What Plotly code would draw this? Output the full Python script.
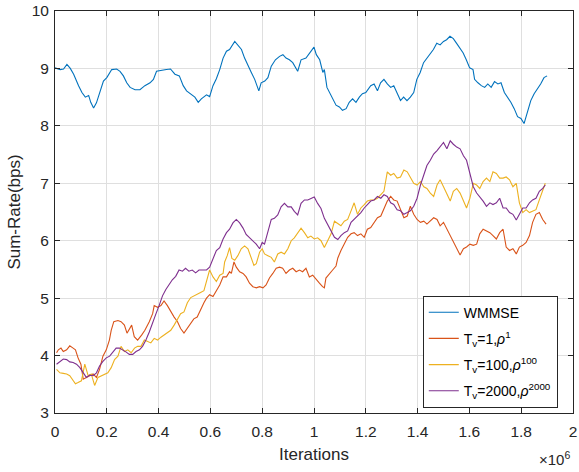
import plotly.graph_objects as go

# ---- data: iteration count in units of 1e6, sum-rate in bps ----
wmmse_x = [0, 0.02, 0.033, 0.046, 0.059, 0.072, 0.091, 0.104, 0.117, 0.13,
           0.138, 0.149, 0.16, 0.174, 0.187, 0.2, 0.219, 0.238, 0.251, 0.264,
           0.277, 0.29, 0.309, 0.328, 0.347, 0.367, 0.38, 0.392, 0.41, 0.43,
           0.446, 0.463, 0.48, 0.495, 0.508, 0.523, 0.54, 0.553, 0.565, 0.585,
           0.597, 0.61, 0.623, 0.636, 0.649, 0.662, 0.674, 0.694, 0.706, 0.72,
           0.732, 0.745, 0.758, 0.771, 0.787, 0.796, 0.81, 0.822, 0.835, 0.851,
           0.867, 0.88, 0.892, 0.905, 0.918, 0.937, 0.95, 0.969, 0.988, 1.0,
           1.009, 1.022, 1.034, 1.04, 1.05, 1.06, 1.073, 1.085, 1.098, 1.11,
           1.124, 1.136, 1.149, 1.162, 1.175, 1.187, 1.2, 1.219, 1.232, 1.245,
           1.257, 1.27, 1.283, 1.296, 1.308, 1.321, 1.334, 1.346, 1.359, 1.372,
           1.385, 1.397, 1.41, 1.423, 1.436, 1.448, 1.461, 1.474, 1.487, 1.5,
           1.512, 1.525, 1.538, 1.55, 1.563, 1.576, 1.588, 1.601, 1.614, 1.62,
           1.633, 1.646, 1.659, 1.671, 1.684, 1.697, 1.71, 1.722, 1.735, 1.748,
           1.76, 1.773, 1.786, 1.799, 1.811, 1.824, 1.837, 1.85, 1.862, 1.875,
           1.888, 1.9]
wmmse_y = [9.01, 8.98, 8.99, 9.07, 9.00, 8.90, 8.70, 8.58, 8.50, 8.53,
           8.41, 8.31, 8.40, 8.58, 8.78, 8.84, 8.98, 8.99, 8.95, 8.87,
           8.75, 8.67, 8.63, 8.63, 8.70, 8.75, 8.81, 8.95, 8.97, 8.98,
           8.99, 8.90, 8.87, 8.70, 8.61, 8.56, 8.50, 8.41, 8.47, 8.54,
           8.51, 8.70, 8.82, 8.98, 9.18, 9.30, 9.33, 9.47, 9.41, 9.33,
           9.18, 9.04, 8.93, 8.81, 8.61, 8.75, 8.78, 8.84, 9.04, 9.15,
           9.21, 9.24, 9.18, 9.15, 9.10, 8.95, 9.15, 9.18, 9.30, 9.37,
           9.24, 9.15, 8.93, 8.98, 8.67, 8.58, 8.47, 8.36, 8.33, 8.27,
           8.30, 8.41, 8.47, 8.41, 8.50, 8.56, 8.58, 8.70, 8.73, 8.61,
           8.75, 8.81, 8.73, 8.67, 8.70, 8.56, 8.44, 8.50, 8.44, 8.50,
           8.58, 8.81, 8.93, 9.10, 9.18, 9.24, 9.33, 9.44, 9.41, 9.47,
           9.50, 9.56, 9.52, 9.44, 9.35, 9.27, 9.15, 9.01, 8.98, 8.81,
           8.75, 8.70, 8.67, 8.73, 8.67, 8.77, 8.73, 8.75, 8.58, 8.50,
           8.41, 8.30, 8.16, 8.13, 8.04, 8.24, 8.44, 8.56, 8.64, 8.73,
           8.84, 8.87]

tv1_x = [0.006, 0.013, 0.023, 0.032, 0.045, 0.057, 0.07, 0.079, 0.089, 0.1,
         0.109, 0.121, 0.134, 0.147, 0.16, 0.172, 0.185, 0.198, 0.21, 0.217,
         0.227, 0.243, 0.255, 0.268, 0.278, 0.287, 0.296, 0.306, 0.319, 0.335,
         0.347, 0.364, 0.377, 0.383, 0.396, 0.409, 0.421, 0.434, 0.447, 0.46,
         0.473, 0.485, 0.498, 0.511, 0.524, 0.536, 0.549, 0.562, 0.575, 0.585,
         0.597, 0.61, 0.623, 0.636, 0.649, 0.662, 0.674, 0.681, 0.691, 0.7,
         0.713, 0.726, 0.738, 0.751, 0.764, 0.777, 0.79, 0.803, 0.815, 0.828,
         0.841, 0.854, 0.867, 0.879, 0.892, 0.905, 0.918, 0.931, 0.944, 0.956,
         0.969, 0.982, 0.995, 1.008, 1.021, 1.033, 1.04, 1.046, 1.059, 1.072,
         1.085, 1.092, 1.104, 1.117, 1.13, 1.143, 1.155, 1.168, 1.181, 1.194,
         1.206, 1.219, 1.232, 1.245, 1.258, 1.27, 1.283, 1.296, 1.308, 1.321,
         1.334, 1.347, 1.36, 1.372, 1.385, 1.398, 1.411, 1.424, 1.436, 1.449,
         1.462, 1.475, 1.487, 1.5, 1.513, 1.526, 1.538, 1.551, 1.564, 1.577,
         1.589, 1.602, 1.615, 1.628, 1.64, 1.653, 1.666, 1.679, 1.691, 1.704,
         1.717, 1.73, 1.742, 1.755, 1.768, 1.781, 1.793, 1.806, 1.819, 1.832,
         1.844, 1.857, 1.87, 1.883, 1.896]
tv1_y = [4.05, 4.10, 4.13, 4.07, 4.10, 4.17, 4.13, 4.10, 3.96, 3.85,
         3.59, 3.62, 3.65, 3.68, 3.62, 3.76, 3.99, 4.10, 4.27, 4.44,
         4.59, 4.61, 4.59, 4.53, 4.39, 4.47, 4.53, 4.33, 4.27, 4.36,
         4.44, 4.59, 4.73, 4.87, 4.84, 4.87, 4.95, 4.87, 4.76, 4.67,
         4.59, 4.47, 4.39, 4.47, 4.57, 4.64, 4.67, 4.81, 4.92, 5.00,
         5.06, 5.03, 5.12, 5.23, 5.37, 5.37, 5.46, 5.43, 5.63, 5.54,
         5.46, 5.43, 5.37, 5.26, 5.20, 5.18, 5.20, 5.18, 5.23, 5.35,
         5.43, 5.52, 5.54, 5.52, 5.43, 5.49, 5.52, 5.46, 5.49, 5.46,
         5.52, 5.37, 5.40, 5.32, 5.26, 5.20, 5.18, 5.35, 5.43, 5.49,
         5.56, 5.70, 5.83, 5.94, 6.06, 6.12, 6.14, 6.09, 6.12, 6.06,
         6.20, 6.23, 6.32, 6.40, 6.43, 6.57, 6.69, 6.77, 6.71, 6.69,
         6.54, 6.40, 6.43, 6.60, 6.46, 6.37, 6.32, 6.34, 6.29, 6.34,
         6.40, 6.37, 6.26, 6.32, 6.20, 6.09, 5.97, 5.86, 5.75, 5.86,
         5.89, 5.94, 5.92, 5.94, 6.12, 6.20, 6.17, 6.14, 6.09, 6.03,
         6.14, 6.20, 5.89, 5.83, 5.86, 5.77, 5.89, 5.92, 5.97, 6.09,
         6.32, 6.46, 6.49, 6.37, 6.29]

tv100_x = [0.006, 0.019, 0.032, 0.045, 0.057, 0.07, 0.079, 0.089, 0.102, 0.115,
           0.128, 0.14, 0.153, 0.166, 0.179, 0.192, 0.204, 0.217, 0.23, 0.243,
           0.255, 0.268, 0.281, 0.294, 0.307, 0.319, 0.332, 0.345, 0.358, 0.37,
           0.383, 0.396, 0.409, 0.421, 0.434, 0.447, 0.46, 0.473, 0.485, 0.498,
           0.511, 0.524, 0.536, 0.549, 0.562, 0.575, 0.585, 0.597, 0.61, 0.623,
           0.636, 0.649, 0.655, 0.665, 0.674, 0.683, 0.694, 0.706, 0.719, 0.732,
           0.745, 0.758, 0.768, 0.777, 0.79, 0.8, 0.809, 0.822, 0.835, 0.847,
           0.86, 0.873, 0.886, 0.899, 0.912, 0.924, 0.937, 0.95, 0.963, 0.976,
           0.988, 1.001, 1.014, 1.027, 1.04, 1.053, 1.066, 1.079, 1.092, 1.104,
           1.117, 1.13, 1.143, 1.155, 1.168, 1.181, 1.194, 1.206, 1.219, 1.232,
           1.245, 1.258, 1.27, 1.283, 1.296, 1.308, 1.321, 1.334, 1.347, 1.36,
           1.372, 1.385, 1.398, 1.411, 1.424, 1.436, 1.449, 1.462, 1.475, 1.487,
           1.5, 1.513, 1.526, 1.538, 1.551, 1.564, 1.577, 1.589, 1.602, 1.615,
           1.628, 1.64, 1.653, 1.666, 1.679, 1.691, 1.704, 1.717, 1.73, 1.742,
           1.755, 1.768, 1.781, 1.793, 1.806, 1.819, 1.832, 1.844, 1.857, 1.87,
           1.883, 1.893]
tv100_y = [3.76, 3.70, 3.69, 3.68, 3.65, 3.56, 3.51, 3.53, 3.56, 3.85,
           3.65, 3.68, 3.48, 3.62, 3.65, 3.68, 3.70, 3.79, 3.93, 3.99,
           4.16, 4.07, 4.10, 4.05, 4.13, 4.16, 4.16, 4.27, 4.24, 4.22,
           4.30, 4.27, 4.32, 4.36, 4.39, 4.44, 4.53, 4.64, 4.73, 4.76,
           4.92, 5.01, 5.04, 5.08, 5.10, 5.13, 5.30, 5.49, 5.37, 5.29,
           5.40, 5.43, 5.63, 5.74, 5.88, 5.69, 5.66, 5.74, 5.86, 5.91,
           5.86, 5.71, 5.57, 5.60, 5.80, 5.86, 5.77, 5.74, 5.71, 5.63,
           5.77, 5.80, 5.77, 5.86, 6.00, 6.05, 6.14, 6.22, 6.14, 6.05,
           6.08, 6.03, 6.05, 6.00, 5.88, 6.00, 6.12, 6.34, 6.30, 6.26,
           6.34, 6.37, 6.52, 6.66, 6.46, 6.57, 6.63, 6.69, 6.71, 6.71,
           6.74, 6.80, 6.86, 7.20, 7.14, 7.17, 7.09, 7.11, 7.23, 7.20,
           7.09, 7.00, 6.97, 7.03, 6.94, 6.91, 6.83, 6.77, 6.97, 7.06,
           6.94, 6.80, 6.69, 6.86, 6.91, 6.83, 6.71, 6.57, 6.74, 7.00,
           6.97, 6.91, 7.03, 7.09, 7.03, 7.20, 7.17, 7.09, 7.09, 7.11,
           7.06, 6.94, 7.00, 6.66, 6.49, 6.54, 6.49, 6.52, 6.54, 6.71,
           6.89, 7.00]

tv2000_x = [0.006, 0.019, 0.032, 0.045, 0.057, 0.07, 0.083, 0.096, 0.109, 0.121,
            0.134, 0.147, 0.16, 0.172, 0.185, 0.198, 0.211, 0.224, 0.236, 0.249,
            0.262, 0.275, 0.287, 0.3, 0.313, 0.326, 0.338, 0.351, 0.364, 0.377,
            0.39, 0.402, 0.415, 0.428, 0.441, 0.453, 0.466, 0.479, 0.492, 0.504,
            0.517, 0.53, 0.543, 0.556, 0.568, 0.585, 0.597, 0.61, 0.623, 0.636,
            0.649, 0.662, 0.674, 0.687, 0.7, 0.713, 0.726, 0.738, 0.751, 0.764,
            0.777, 0.79, 0.8, 0.809, 0.822, 0.835, 0.847, 0.86, 0.873, 0.886,
            0.899, 0.912, 0.924, 0.937, 0.95, 0.963, 0.976, 0.988, 1.001, 1.014,
            1.027, 1.04, 1.053, 1.066, 1.079, 1.092, 1.104, 1.117, 1.13, 1.143,
            1.155, 1.168, 1.181, 1.194, 1.206, 1.219, 1.232, 1.245, 1.258, 1.27,
            1.283, 1.296, 1.308, 1.321, 1.334, 1.347, 1.36, 1.372, 1.385, 1.398,
            1.411, 1.424, 1.436, 1.449, 1.462, 1.475, 1.487, 1.5, 1.513, 1.526,
            1.538, 1.551, 1.564, 1.577, 1.589, 1.602, 1.615, 1.628, 1.64, 1.653,
            1.666, 1.679, 1.691, 1.704, 1.717, 1.73, 1.742, 1.755, 1.768, 1.781,
            1.793, 1.806, 1.819, 1.832, 1.844, 1.857, 1.87, 1.883, 1.893]
tv2000_y = [3.85, 3.90, 3.94, 3.93, 3.89, 3.88, 3.85, 3.79, 3.70, 3.62,
            3.66, 3.65, 3.70, 3.82, 3.90, 3.96, 3.99, 4.07, 4.13, 4.13,
            4.10, 4.06, 4.02, 4.02, 4.07, 4.10, 4.16, 4.27, 4.41, 4.59,
            4.73, 4.87, 5.04, 5.15, 5.24, 5.32, 5.38, 5.49, 5.47, 5.52,
            5.47, 5.49, 5.44, 5.49, 5.49, 5.49, 5.54, 5.69, 5.83, 5.88,
            6.03, 6.14, 6.20, 6.31, 6.37, 6.31, 6.22, 6.11, 6.05, 6.00,
            5.94, 5.86, 5.97, 5.94, 6.14, 6.37, 6.39, 6.45, 6.59, 6.65,
            6.59, 6.59, 6.51, 6.45, 6.65, 6.71, 6.71, 6.73, 6.76, 6.65,
            6.56, 6.39, 6.28, 6.15, 6.06, 6.02, 6.09, 6.14, 6.17, 6.32,
            6.37, 6.43, 6.49, 6.57, 6.63, 6.69, 6.71, 6.77, 6.74, 6.80,
            6.77, 6.66, 6.63, 6.54, 6.52, 6.46, 6.49, 6.52, 6.60, 6.74,
            6.97, 7.17, 7.31, 7.40, 7.51, 7.57, 7.63, 7.71, 7.60, 7.74,
            7.68, 7.63, 7.60, 7.48, 7.40, 7.17, 6.94, 6.83, 6.77, 6.69,
            6.60, 6.66, 6.63, 6.66, 6.74, 6.57, 6.57, 6.49, 6.46, 6.36,
            6.46, 6.57, 6.57, 6.66, 6.71, 6.74, 6.86, 6.91, 6.97]

series_names = ["WMMSE",
                "T<sub>v</sub>=1,<i>ρ</i><sup>1</sup>",
                "T<sub>v</sub>=100,<i>ρ</i><sup>100</sup>",
                "T<sub>v</sub>=2000,<i>ρ</i><sup>2000</sup>"]
series_colors = ["#0072BD", "#D95319", "#EDB120", "#7E2F8E"]

x_ticks = [0, 0.2, 0.4, 0.6, 0.8, 1, 1.2, 1.4, 1.6, 1.8, 2]
x_tick_text = ["0", "0.2", "0.4", "0.6", "0.8", "1", "1.2", "1.4", "1.6", "1.8", "2"]
y_ticks = [3, 4, 5, 6, 7, 8, 9, 10]

FONT = "Liberation Sans, Arial, Helvetica"
INK = "#262626"

fig = go.Figure()
series = [(wmmse_x, wmmse_y), (tv1_x, tv1_y), (tv100_x, tv100_y), (tv2000_x, tv2000_y)]
for i, ((xs, ys), name, col) in enumerate(zip(series, series_names, series_colors)):
    fig.add_trace(go.Scatter(x=[v * 1e6 for v in xs], y=ys, mode="lines", name=name,
                             legendgroup=f"g{i}",
                             line=dict(color=col, width=1.1)))

axis_common = dict(showline=True, linecolor=INK, linewidth=1, mirror="allticks",
                   ticks="inside", ticklen=5, tickcolor=INK,
                   showgrid=True, gridcolor="#DFDFDF", gridwidth=1, zeroline=False,
                   ticklabeloverflow="allow",
                   tickfont=dict(family=FONT, size=15.5, color=INK))

fig.update_xaxes(range=[0, 2e6], tickvals=[t * 1e6 for t in x_ticks], ticktext=x_tick_text,
                 ticklabelstandoff=4,
                 title=dict(text="Iterations", standoff=9,
                            font=dict(family=FONT, size=17, color=INK)),
                 **axis_common)
fig.update_yaxes(range=[3, 10], tickvals=y_ticks,
                 ticklabelstandoff=2,
                 title=dict(text="Sum-Rate(bps)", standoff=6,
                            font=dict(family=FONT, size=17, color=INK)),
                 **axis_common)

# axis exponent label under the right end of the x axis
fig.add_annotation(text="×10<sup>6</sup>", xref="paper", yref="paper", x=0.999, y=-0.141,
                   xanchor="right", yanchor="bottom", showarrow=False,
                   font=dict(family=FONT, size=15, color=INK))

fig.update_layout(
    width=579, height=472,
    margin=dict(l=55, r=2, t=4, b=59),
    paper_bgcolor="white", plot_bgcolor="white",
    showlegend=True,
    legend=dict(x=0.71, y=0.292, xanchor="left", yanchor="top",
                bgcolor="white", bordercolor=INK, borderwidth=1,
                tracegroupgap=5,
                font=dict(family=FONT, size=14, color="#000000")),
)

fig.write_html("out.html")
